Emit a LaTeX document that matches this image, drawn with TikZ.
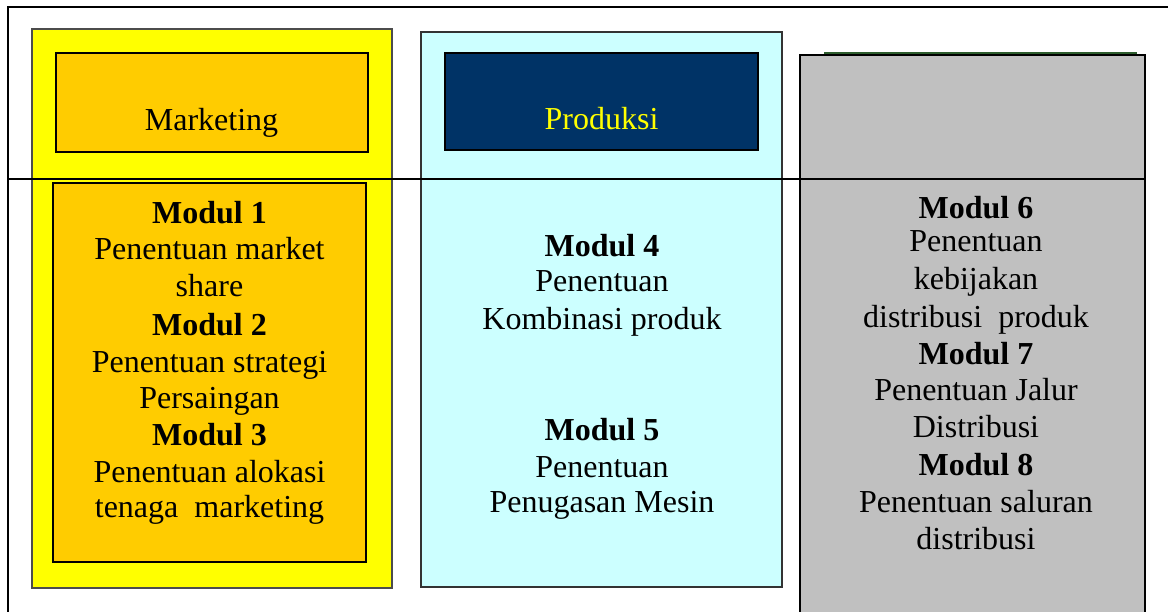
\documentclass[tikz,border=0pt]{standalone}
\usepackage{fontspec}
\setmainfont{Liberation Serif}
\definecolor{ylw}{HTML}{FFFF00}
\definecolor{org}{HTML}{FFCC00}
\definecolor{cyn}{HTML}{CCFFFF}
\definecolor{navy}{HTML}{003366}
\definecolor{gry}{HTML}{C0C0C0}
\definecolor{dgreen}{HTML}{2E5E2E}
\begin{document}
\begin{tikzpicture}[x=1pt,y=-1pt,
  box/.style={inner sep=0pt,outer sep=0pt},
  txt/.style={inner sep=0pt,anchor=base,font=\fontsize{32}{37}\selectfont},
  frame/.style={line width=2pt,black}]
\useasboundingbox (0,0) rectangle (1168,612);
% column boxes
\node[box,draw=black!70,line width=1.3pt,fill=ylw,minimum width=360pt,minimum height=559pt] (ycol) at (212,308.5) {};
\node[box,draw=black,line width=1.6pt,fill=org,minimum width=312pt,minimum height=99pt] (mhead) at (212,102.5) {};
\node[box,draw=black,line width=1.6pt,fill=org,minimum width=313pt,minimum height=379pt] (mbody) at (209.5,372.5) {};
\node[box,draw=black!80,line width=1.3pt,fill=cyn,minimum width=361pt,minimum height=555pt] (ccol) at (601.5,309.5) {};
\node[box,draw=black,line width=1.6pt,fill=navy,minimum width=313pt,minimum height=97pt] (phead) at (601.5,101.5) {};
\node[box,draw=black,line width=2pt,fill=gry,minimum width=345pt,minimum height=585pt] (gcol) at (972.5,347.5) {};
\draw[dgreen,line width=1.2pt] (824,53) -- (1137,53);
% headers
\node[txt] (mtitle) at (211.5,131) {Marketing};
\node[txt,text=ylw] (ptitle) at (601.5,130) {Produksi};
% column 1
\foreach \yy/\lbl [count=\i] in {224/{\textbf{Modul 1}},260/{Penentuan market},297/{share},336/{\textbf{Modul 2}},373/{Penentuan strategi},409/{Persaingan},445/{\textbf{Modul 3}},482/{Penentuan alokasi},517/{tenaga\ \ marketing}}
  \node[txt] (a\i) at (209.5,\yy) {\lbl};
% column 2
\foreach \yy/\lbl [count=\i] in {257/{\textbf{Modul 4}},292/{Penentuan},330/{Kombinasi produk},440/{\textbf{Modul 5}},477/{Penentuan},512/{Penugasan Mesin}}
  \node[txt] (b\i) at (602,\yy) {\lbl};
% column 3
\foreach \yy/\lbl [count=\i] in {219/{\textbf{Modul 6}},252/{Penentuan},290/{kebijakan},328/{distribusi\ \ produk},365/{\textbf{Modul 7}},400/{Penentuan Jalur},437/{Distribusi},475/{\textbf{Modul 8}},512/{Penentuan saluran},549/{distribusi}}
  \node[txt] (c\i) at (976,\yy) {\lbl};
% frame lines
\coordinate (tl) at (8,7);
\coordinate (tr) at (1168,7);
\coordinate (bl) at (8,612);
\coordinate (ml) at (8,179);
\coordinate (mr) at (1145,179);
\draw[frame] (tr) -- (tl) -- (bl);
\draw[frame] (ml) -- (mr);
\end{tikzpicture}
\end{document}
